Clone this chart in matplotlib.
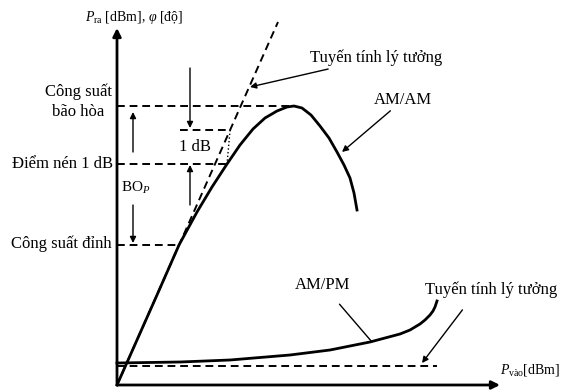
import matplotlib.pyplot as plt

plt.rcParams["font.family"] = ["Liberation Serif", "DejaVu Serif"]
plt.rcParams["mathtext.fontset"] = "custom"
plt.rcParams["mathtext.rm"] = "Liberation Serif"
plt.rcParams["mathtext.it"] = "Liberation Serif:italic"

# AM/AM characteristic (input power vs output power, schematic units)
pin_amam = [0, 20, 40, 62, 80, 95, 110, 123, 136, 148, 160, 170, 177,
            185, 194, 203, 212, 220, 227, 233, 237, 240]
pout_amam = [0, 45, 90, 140, 173, 198, 221, 240, 256, 267, 274, 278, 279,
             277, 270, 259, 247, 233, 220, 207, 192, 175]

# AM/PM characteristic (input power vs phase)
pin_ampm = [0, 63, 113, 173, 213, 253, 283, 293, 303, 308, 313, 316, 318, 320]
phase_ampm = [22, 23, 25, 30, 35, 43, 51, 55, 61, 65, 70, 74, 78, 84]

# ideal linear lines
ideal_amam_x = [0, 161]
ideal_amam_y = [0, 363]
ideal_ampm_x = [0, 320]
ideal_ampm_y = [19, 19]

# reference levels
sat_level = 279
comp_level = 221
comp_ideal_level = 255
peak_level = 140

fig = plt.figure(figsize=(5.72, 3.91), dpi=100)
ax = fig.add_axes([0, 0, 1, 1])
ax.set_xlim(-117, 455)
ax.set_ylim(-6, 385)
ax.axis("off")

dash = (0, (4, 2.5))
arrow = dict(arrowstyle="-|>", color="black", lw=1.0, mutation_scale=9,
             shrinkA=0, shrinkB=0)

# axes with arrows
ax.annotate("", xy=(383, 0), xytext=(0, 0),
            arrowprops=dict(arrowstyle="-|>", color="black", lw=2,
                            mutation_scale=12, shrinkA=0, shrinkB=0))
ax.annotate("", xy=(0, 357), xytext=(0, 0),
            arrowprops=dict(arrowstyle="-|>", color="black", lw=2,
                            mutation_scale=12, shrinkA=0, shrinkB=0))

# curves
ax.plot(pin_amam, pout_amam, color="black", lw=2, solid_joinstyle="round")
ax.plot(pin_ampm, phase_ampm, color="black", lw=2, solid_joinstyle="round")
ax.plot(ideal_amam_x, ideal_amam_y, color="black", lw=1.4, linestyle=dash)
ax.plot(ideal_ampm_x, ideal_ampm_y, color="black", lw=1.4, linestyle=dash)

# level lines
sat_x = pin_amam[pout_amam.index(max(pout_amam))]
comp_x = pin_amam[pout_amam.index(comp_level)]
peak_x = pin_amam[pout_amam.index(peak_level)]
slope = ideal_amam_y[1] / ideal_amam_x[1]
ax.plot([0, sat_x], [sat_level, sat_level], color="black", lw=1.4, linestyle=dash)
ax.plot([0, comp_x], [comp_level, comp_level], color="black", lw=1.4, linestyle=dash)
ax.plot([0, peak_x], [peak_level, peak_level], color="black", lw=1.4, linestyle=dash)
ax.plot([63, comp_ideal_level / slope], [comp_ideal_level, comp_ideal_level],
        color="black", lw=1.4, linestyle=dash)
ax.plot([comp_ideal_level / slope, comp_x], [comp_ideal_level, comp_level],
        color="black", lw=1.0, linestyle=":")

# small arrows
ax.annotate("", xy=(73, comp_ideal_level + 2), xytext=(73, 317), arrowprops=arrow)
ax.annotate("", xy=(73, comp_level - 1), xytext=(73, 180), arrowprops=arrow)
ax.annotate("", xy=(16, sat_level - 6), xytext=(16, 233), arrowprops=arrow)
ax.annotate("", xy=(16, peak_level + 2), xytext=(16, 180), arrowprops=arrow)

fs = 12
# left labels
ax.text(-39, 283, "Công suất\nbão hòa", ha="center", va="center",
        fontsize=fs, linespacing=1.3)
ax.text(-4, comp_level, "Điểm nén 1 dB", ha="right", va="center", fontsize=fs)
ax.text(-5, peak_level + 1, "Công suất đỉnh", ha="right", va="center", fontsize=fs)
ax.text(4, 197, "BO$_{P}$", ha="left", va="center", fontsize=fs - 1)
ax.text(78, 238, "1 dB", ha="center", va="center", fontsize=fs)

# curve labels
ax.annotate("Tuyến tính lý tưởng", xy=(133, 298), xytext=(193, 327),
            ha="left", va="center", fontsize=fs, arrowprops=arrow)
ax.annotate("AM/AM", xy=(225, 233), xytext=(257, 285),
            ha="left", va="center", fontsize=fs, arrowprops=arrow)
ax.annotate("AM/PM", xy=(255, 43), xytext=(206, 100),
            ha="center", va="center", fontsize=fs,
            arrowprops=dict(arrowstyle="-", color="black", lw=1.0,
                            shrinkA=8, shrinkB=0))
ax.annotate("Tuyến tính lý tưởng", xy=(305, 22), xytext=(308, 95),
            ha="left", va="center", fontsize=fs,
            arrowprops=dict(arrowstyle="-|>", color="black", lw=1.0,
                            mutation_scale=9, shrinkA=8, shrinkB=0,
                            relpos=(0.35, 0)))

# axis labels
ax.text(-32, 367, r"$P_{\mathrm{ra}}$ [dBm], $\varphi$ [độ]", ha="left",
        va="center", fontsize=fs - 2)
ax.text(383, 15, r"$P_{\mathrm{vào}}$[dBm]", ha="left", va="center",
        fontsize=fs - 2)

fig.savefig("out.png", dpi=100)
